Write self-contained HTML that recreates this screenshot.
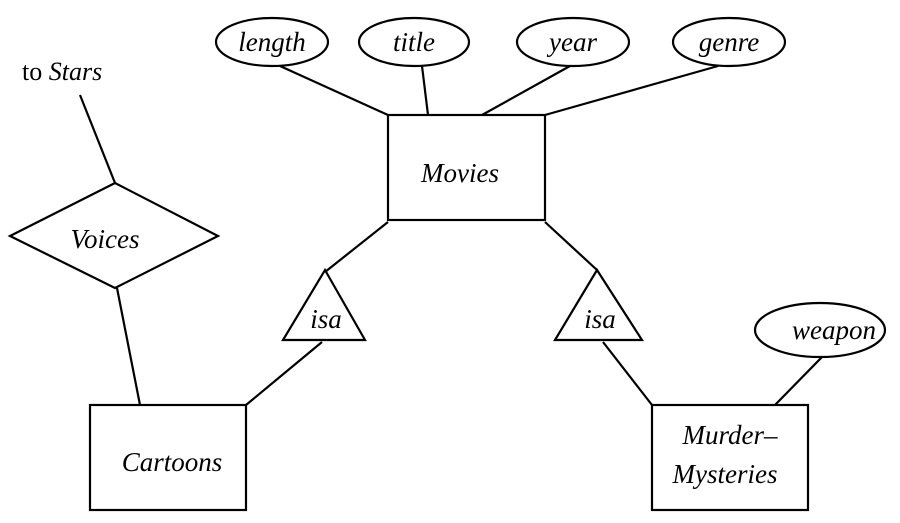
<!DOCTYPE html>
<html><head><style>body{margin:0;background:#fff}svg{display:block}text{font-family:"Liberation Serif","Times New Roman",serif}</style></head><body>
<svg width="900" height="523" viewBox="0 0 900 523" xmlns="http://www.w3.org/2000/svg">
<g stroke="#000" stroke-width="2.2" fill="none">
<rect x="388" y="115" width="157" height="105"/>
<rect x="90" y="405" width="156" height="105"/>
<rect x="652" y="405" width="156" height="105"/>
<ellipse cx="272" cy="42" rx="56" ry="24"/>
<ellipse cx="414" cy="42" rx="55" ry="24"/>
<ellipse cx="573" cy="42" rx="56" ry="24"/>
<ellipse cx="729" cy="42" rx="56" ry="24"/>
<ellipse cx="820" cy="330" rx="65" ry="27"/>
<line x1="280" y1="66" x2="388" y2="115"/>
<line x1="422" y1="66" x2="428" y2="115"/>
<line x1="570" y1="66" x2="482" y2="115"/>
<line x1="718" y1="66" x2="545" y2="115"/>
<line x1="80" y1="95" x2="115" y2="183"/>
<polygon points="115,183 218,236 115,288 10,236"/>
<line x1="117" y1="288" x2="140" y2="405"/>
<polygon points="325,270 365,340 283,340"/>
<polygon points="597,270 642,340 555,340"/>
<line x1="388" y1="222" x2="325" y2="272"/>
<line x1="322" y1="342" x2="246" y2="405"/>
<line x1="545" y1="222" x2="597" y2="270"/>
<line x1="603" y1="342" x2="652" y2="405"/>
<line x1="822" y1="357" x2="775" y2="405"/>
</g>
<g font-style="italic" font-size="27" text-anchor="middle" fill="#000">
<text x="272" y="51">length</text>
<text x="414" y="51">title</text>
<text x="573" y="51">year</text>
<text x="729" y="51">genre</text>
<text x="460" y="182">Movies</text>
<text x="105" y="248">Voices</text>
<text x="326" y="328">isa</text>
<text x="600" y="328">isa</text>
<text x="834" y="339">weapon</text>
<text x="172" y="471">Cartoons</text>
<text x="730" y="444">Murder–</text>
<text x="725" y="483">Mysteries</text>
</g>
<text x="22" y="80" font-size="26">to <tspan font-style="italic">Stars</tspan></text>
</svg>
</body></html>
